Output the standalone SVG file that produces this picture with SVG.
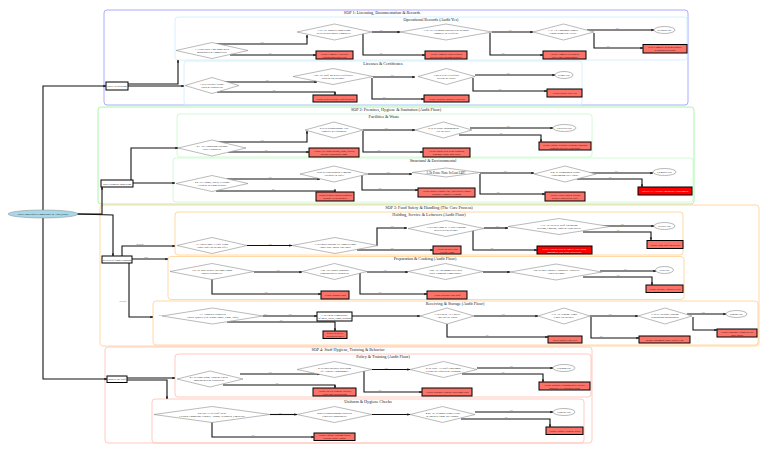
<svg xmlns="http://www.w3.org/2000/svg" width="768" height="453" viewBox="0 0 768 453">
<style>
text{font-family:"Liberation Serif","Times New Roman",serif;fill:#222;text-anchor:middle}
.c{fill:none;stroke-width:.9}
.b{stroke:#a0a0ff}.g{stroke:#a0f5a0}.o{stroke:#ffd49c}.p{stroke:#ffc4ba}
.ct{font-size:4.2px;fill:#222}
.d{fill:#fff;stroke:#8c8c8c;stroke-width:.6}
.e{fill:#fff;stroke:#888;stroke-width:.6}
.t{font-size:2.8px;fill:#222}
.r{fill:#fa7268;stroke:#000;stroke-width:1}
.rt{font-size:2.5px;fill:#300}
.x{fill:#f00;stroke:#000;stroke-width:1}
.xt{font-size:2.5px;fill:#fff}
.w{fill:#fff;stroke:#000;stroke-width:1}
.wt{font-size:2.7px;fill:#111}
.s{fill:#a6d8ea;stroke:#888;stroke-width:.5}
.l{font-size:2px;fill:#444}
#connectors path{fill:none;stroke:#111;stroke-width:1.1;marker-end:url(#a)}
</style>
<defs><marker id="a" markerUnits="userSpaceOnUse" markerWidth="3" markerHeight="3" refX="2.6" refY="1.2" orient="auto"><path d="M0 0L2.6 1.2L0 2.4z" fill="#111"/></marker></defs>

<g id="clusters">
<rect class="c b" x="104" y="10" width="584" height="95" rx="3"/>
<text class="ct" x="382" y="13.5">SOP 1: Licensing, Documentation &amp; Records</text>
<rect class="c" stroke="#d2eeff" x="175" y="17" width="512" height="43" rx="3"/>
<text class="ct" x="431" y="20.5">Operational Records (Audit Yes)</text>
<rect class="c" stroke="#d2eeff" x="184" y="61" width="398" height="44" rx="3"/>
<text class="ct" x="383" y="64.5">Licenses &amp; Certificates</text>

<rect class="c g" x="98" y="107" width="596" height="97" rx="3"/>
<text class="ct" x="396" y="111">SOP 2: Premises, Hygiene &amp; Sanitation (Audit Floor)</text>
<rect class="c" stroke="#cff7cf" x="177" y="114" width="415" height="43" rx="3"/>
<text class="ct" x="384" y="118">Facilities &amp; Waste</text>
<rect class="c" stroke="#cff7cf" x="173" y="158" width="520" height="44" rx="3"/>
<text class="ct" x="433" y="162">Structural &amp; Environmental</text>

<rect class="c o" x="100" y="205" width="659" height="141" rx="3"/>
<text class="ct" x="429" y="208.5">SOP 3: Food Safety &amp; Handling (The Core Process)</text>
<rect class="c o" x="175" y="212" width="508" height="43" rx="3"/>
<text class="ct" x="429" y="215.5">Holding, Service &amp; Leftovers (Audit Floor)</text>
<rect class="c o" x="168" y="256.500" width="516" height="43" rx="3"/>
<text class="ct" x="425" y="260">Preparation &amp; Cooking (Audit Floor)</text>
<rect class="c o" x="153" y="301" width="605" height="44" rx="3"/>
<text class="ct" x="455" y="304.500">Receiving &amp; Storage (Audit Floor)</text>

<rect class="c p" x="105" y="347" width="487" height="96" rx="3"/>
<text class="ct" x="348" y="350.500">SOP 4: Staff Hygiene, Training &amp; Behavior</text>
<rect class="c p" x="175" y="354" width="416" height="43" rx="3"/>
<text class="ct" x="383" y="358">Policy &amp; Training (Audit Floor)</text>
<rect class="c p" x="152" y="399" width="432" height="44" rx="3"/>
<text class="ct" x="368" y="402.500">Uniform &amp; Hygiene Checks</text>
</g>

<g id="connectors">
<path d="M43 210V86H106"/>
<path d="M43 218V379H107"/>
<path d="M77 214H102V187"/>
<path d="M77 214L113 215V256"/>
<path d="M128 84H178V60"/>
<path d="M128 86H184"/>
<path d="M216 44H307V35"/>
<path d="M230 55H316"/>
<path d="M372 32H400"/>
<path d="M363 33V55H425"/>
<path d="M492 32H533"/>
<path d="M490 33V55H543"/>
<path d="M587 30H654"/>
<path d="M594 33V48H643"/>
<path d="M222 82H317"/>
<path d="M217 92H335V95"/>
<path d="M373 77H415"/>
<path d="M372 78V99H424"/>
<path d="M475 75H555"/>
<path d="M473 78V91H547"/>

<path d="M131 180V148H178"/>
<path d="M133 183H175"/>
<path d="M217 142H307V131"/>
<path d="M228 152H309"/>
<path d="M363 130H415"/>
<path d="M363 131V152H423"/>
<path d="M470 128H553"/>
<path d="M459 135H541V142"/>
<path d="M227 179H320"/>
<path d="M216 191H335V192"/>
<path d="M368 174H412"/>
<path d="M362 175V190H418"/>
<path d="M480 173H534"/>
<path d="M480 174V194H545"/>
<path d="M587 173H653"/>
<path d="M577 179H642V187"/>

<path d="M122 256V246H175"/>
<path d="M132 259H168"/>
<path d="M129 263V317H153"/>
<path d="M247 245.500H292"/>
<path d="M377 246V228H407"/>
<path d="M357 250H433"/>
<path d="M484 228H508"/>
<path d="M473 230V250H537"/>
<path d="M600 226H654"/>
<path d="M583 232H651V240"/>
<path d="M254 272H302"/>
<path d="M212 279V294H321"/>
<path d="M367 272H408"/>
<path d="M360 273V294H427"/>
<path d="M483 272H510"/>
<path d="M600 271H656"/>
<path d="M583 277H652V285"/>
<path d="M263 316H317"/>
<path d="M227 322H335V331"/>
<path d="M352 316H420"/>
<path d="M474 316H538"/>
<path d="M447 324V337H548"/>
<path d="M590 316H638"/>
<path d="M591 317V338H639"/>
<path d="M687 314H726"/>
<path d="M693 317V330H717"/>

<path d="M127 378H175"/>
<path d="M127 380H167V399"/>
<path d="M240 374H320"/>
<path d="M223 385H335V388"/>
<path d="M372 369.500H410"/>
<path d="M364 370V392H422"/>
<path d="M477 368H553"/>
<path d="M462 374H543V382"/>
<path d="M270 414.500H297"/>
<path d="M212 422V437H314"/>
<path d="M372 414.500H410"/>
<path d="M475 412H553"/>
<path d="M461 419H550V427"/>
</g>

<g id="edge-labels">
<text class="l" x="140" y="245">Mention</text>
<text class="l" x="146" y="258">Prep</text>
<text class="l" x="123" y="302">Delivery</text>
<text class="l" x="262" y="43">Yes</text><text class="l" x="270" y="54">No</text>
<text class="l" x="381" y="31">Yes</text><text class="l" x="381" y="54">No</text>
<text class="l" x="510" y="31">Yes</text><text class="l" x="503" y="54">No</text>
<text class="l" x="617" y="29">Yes</text><text class="l" x="608" y="47">No</text>
<text class="l" x="267" y="81">Yes</text><text class="l" x="274" y="91">No</text>
<text class="l" x="392" y="76">Yes</text><text class="l" x="384" y="98">No</text>
<text class="l" x="508" y="74">Yes</text><text class="l" x="500" y="90">No</text>
<text class="l" x="262" y="141">Yes</text><text class="l" x="266" y="151">No</text>
<text class="l" x="386" y="129">Yes</text><text class="l" x="379" y="151">No</text>
<text class="l" x="508" y="127">Yes</text><text class="l" x="501" y="134">No</text>
<text class="l" x="270" y="178">Yes</text><text class="l" x="273" y="190">No</text>
<text class="l" x="388" y="173">Yes</text><text class="l" x="380" y="189">No</text>
<text class="l" x="505" y="172">Yes</text><text class="l" x="498" y="193">No</text>
<text class="l" x="616" y="172">Yes</text><text class="l" x="610" y="178">No</text>
<text class="l" x="270" y="245">Yes</text>
<text class="l" x="392" y="227">Yes</text><text class="l" x="392" y="249">No</text>
<text class="l" x="497" y="227">Yes</text><text class="l" x="492" y="249">No</text>
<text class="l" x="622" y="225">Yes</text><text class="l" x="618" y="231">No</text>
<text class="l" x="278" y="271">Yes</text><text class="l" x="266" y="293">No</text>
<text class="l" x="385" y="271">Yes</text><text class="l" x="380" y="293">No</text>
<text class="l" x="625" y="270">Yes</text><text class="l" x="618" y="276">No</text>
<text class="l" x="160" y="316">Yes</text><text class="l" x="265" y="315">Yes</text>
<text class="l" x="290" y="315">Yes</text><text class="l" x="281" y="321">No</text>
<text class="l" x="503" y="315">Yes</text><text class="l" x="487" y="336">No</text>
<text class="l" x="610" y="315">Yes</text><text class="l" x="601" y="337">No</text>
<text class="l" x="703" y="313">Yes</text>
<text class="l" x="270" y="373">Yes</text><text class="l" x="277" y="384">No</text>
<text class="l" x="386" y="369">Yes</text><text class="l" x="380" y="391">No</text>
<text class="l" x="511" y="367">Yes</text><text class="l" x="503" y="373">No</text>
<text class="l" x="280" y="414">Yes</text><text class="l" x="253" y="436">No</text>
<text class="l" x="511" y="411">Yes</text><text class="l" x="506" y="418">No</text>
</g>

<g id="start"><ellipse class="s" cx="43" cy="214" rx="35" ry="4"/><text class="wt" x="43" y="215">Daily Food Safety Compliance &amp; Audit (Start)</text></g>
<g id="box-sop1"><rect class="w" x="106" y="82" width="22" height="8"/><text class="wt" x="117" y="87">Daily Verification</text></g>
<g id="box-sop2"><rect class="w" x="101" y="180" width="32" height="7"/><text class="wt" x="117" y="184.500">Daily Premises Inspection</text></g>
<g id="box-sop3"><rect class="w" x="102" y="256" width="30" height="7"/><text class="wt" x="117" y="260.500">Review Of Food Handling</text></g>
<g id="box-sop4"><rect class="w" x="107" y="376" width="20" height="6.500"/><text class="wt" x="117" y="380">Inspect the Staff</text></g>

<g id="n11"><polygon class="d" points="176,50.500 212,42.500 248,50.500 212,58.500"/><text class="t" x="212" y="49.500">1.1 Has Daily Log Book Been</text><text class="t" x="212" y="52.500">Maintained &amp; Completed?</text></g>
<g id="n12"><polygon class="d" points="297,32 334.500,24 372,32 334.500,40"/><text class="t" x="334" y="31">1.1a Are Supplier Inspections</text><text class="t" x="334" y="34">Reviewed/Registry Complete?</text></g>
<g id="n13"><polygon class="d" points="400,32 446,24 492,32 446,40"/><text class="t" x="446" y="31">1.1b Are Cleaning Schedules &amp; Records</text><text class="t" x="446" y="34">Complete &amp; Verified?</text></g>
<g id="n14"><polygon class="d" points="533,32 563.500,24 594,32 563.500,40"/><text class="t" x="563" y="31">1.1c Are Logbooks Signed</text><text class="t" x="563" y="34">Countersigned &amp; Filed?</text></g>
<g id="ok1"><ellipse class="e" cx="664.500" cy="30" rx="10.500" ry="3.500"/><text class="t" x="664.500" y="31">Records OK</text></g>
<g id="r14b"><rect class="r" x="643" y="44.500" width="44" height="8.500"/><text class="rt" x="665" y="48">8.1b: Complete Records Register</text><text class="rt" x="665" y="51">&amp; Maintain Records</text></g>
<g id="r14"><rect class="r" x="543" y="51" width="43" height="8"/><text class="rt" x="564.500" y="54.500">Action: Complete Records &amp;</text><text class="rt" x="564.500" y="57.500">Have Logs Countersigned</text></g>
<g id="r12"><rect class="r" x="316" y="51" width="37" height="8"/><text class="rt" x="334.500" y="54.500">Action: Complete Log Sheet</text><text class="rt" x="334.500" y="57.500">Inform Supervisor Now</text></g>
<g id="r13"><rect class="r" x="425" y="51" width="42" height="8"/><text class="rt" x="446" y="54.500">Action: Complete Inspections &amp;</text><text class="rt" x="446" y="57.500">Prevent Non-Working Registers</text></g>

<g id="n21"><polygon class="d" points="185,85.500 212,77.500 239,85.500 212,93.500"/><text class="t" x="212" y="84.500">1.2 Is Health License</text><text class="t" x="212" y="87.500">Valid &amp; Displayed?</text></g>
<g id="n22"><polygon class="d" points="293,76.500 333,68.500 373,76.500 333,84.500"/><text class="t" x="333" y="75.500">1.2a Are Staff Medical Certificates</text><text class="t" x="333" y="78.500">Valid &amp; On Record?</text></g>
<g id="n23"><polygon class="d" points="418,76.500 446.500,68.500 475,76.500 446.500,84.500"/><text class="t" x="446.500" y="75.500">1.2b Is Pest Certificate</text><text class="t" x="446.500" y="78.500">Recent &amp; Valid?</text></g>
<g id="ok2"><ellipse class="e" cx="564" cy="75" rx="9" ry="3.500"/><text class="t" x="564" y="76">Permit OK</text></g>
<g id="r21"><rect class="r" x="547" y="89" width="35" height="8"/><text class="rt" x="564.500" y="94">Action: Renew Pest Cert</text></g>
<g id="r22"><rect class="r" x="313" y="95" width="44" height="7"/><text class="rt" x="335" y="99.500">Action: Renew/Replace Staff Medicals</text></g>
<g id="r23"><rect class="r" x="424" y="95" width="45" height="7"/><text class="rt" x="446.500" y="99.500">Action: Schedule Medical Check-up</text></g>

<g id="n31"><polygon class="d" points="178,148 212,140 246,148 212,156"/><text class="t" x="212" y="147">2.1 Are Handwash Stations</text><text class="t" x="212" y="150">Fully Equipped?</text></g>
<g id="n32"><polygon class="d" points="305,130 334,122 363,130 334,138"/><text class="t" x="334" y="129">2.1a Is Dishwashing Area</text><text class="t" x="334" y="132">Properly &amp; Equipped?</text></g>
<g id="n33"><polygon class="d" points="415,130 443.500,122 472,130 443.500,138"/><text class="t" x="443.500" y="129">2.1b Is Waste Management</text><text class="t" x="443.500" y="132">Up To SOP?</text></g>
<g id="ok3"><ellipse class="e" cx="564.500" cy="128" rx="11.500" ry="3.500"/><text class="t" x="564.500" y="129">Facilities OK</text></g>
<g id="r31"><rect class="r" x="309" y="148" width="50" height="9"/><text class="rt" x="334" y="152">Action: Fix Hand Stations, Soap, Dryers;</text><text class="rt" x="334" y="155">Replace Dishwasher Signs</text></g>
<g id="r32"><rect class="r" x="423" y="148" width="47" height="9"/><text class="rt" x="446.500" y="152">Action: Install Step Pedal Dustbins;</text><text class="rt" x="446.500" y="155">Segregate Waste Bins Daily</text></g>
<g id="r33"><rect class="r" x="539" y="142" width="52" height="8"/><text class="rt" x="565" y="145.500">Action: Enforce Kitchen Cleaning; Segregate</text><text class="rt" x="565" y="148.500">Hygienic Dry/Wet Food Waste</text></g>

<g id="n41"><polygon class="d" points="176,183.500 212,175.500 248,183.500 212,191.500"/><text class="t" x="212" y="182.500">2.2 Are Floors, Walls, Ceilings</text><text class="t" x="212" y="185.500">Clean &amp; In Good Repair?</text></g>
<g id="n42"><polygon class="d" points="300,174 334,166 368,174 334,182"/><text class="t" x="334" y="173">2.2a Is Ventilation &amp; Lighting</text><text class="t" x="334" y="176">Adequate &amp; Safe?</text></g>
<g id="n43"><polygon class="d" points="412,172.500 446,168 480,172.500 446,177"/><text class="t" x="446" y="173.500" style="font-size:3.2px">2.2b Pests: None In Last 24H?</text></g>
<g id="n44"><polygon class="d" points="534,174 565,166 596,174 565,182"/><text class="t" x="565" y="173">2.2c Is Plumbing &amp; Drain</text><text class="t" x="565" y="176">Functioning Free Flow?</text></g>
<g id="ok4"><ellipse class="e" cx="664.500" cy="172" rx="11.500" ry="3.500"/><text class="t" x="664.500" y="173">Premises OK</text></g>
<g id="x41"><rect class="x" x="638" y="187" width="54" height="8"/><text class="xt" x="665" y="192">CRITICAL: Activate Emergency Containment</text></g>
<g id="r41"><rect class="r" x="316" y="192" width="38" height="9"/><text class="rt" x="335" y="196">Action: Repair Cracked Surfaces;</text><text class="rt" x="335" y="199">Repaint Clean Surfaces</text></g>
<g id="r42"><rect class="r" x="418" y="188" width="57" height="9"/><text class="rt" x="446.500" y="192">Action: Install Exhaust Fan; Add/Correct Lights;</text><text class="rt" x="446.500" y="195">Schedule Chimney Cleaning</text></g>
<g id="r43"><rect class="r" x="545" y="192" width="40" height="9"/><text class="rt" x="565" y="196">Action: Clean Traps &amp; Drains;</text><text class="rt" x="565" y="199">Repair Leaks Before Shift</text></g>

<g id="n51"><polygon class="d" points="177,245.500 212,237.500 247,245.500 212,253.500"/><text class="t" x="212" y="244.500">3.1 Hold Food At Safe Temp</text><text class="t" x="212" y="247.500">Above 60°C or Below 5°C?</text></g>
<g id="n52"><polygon class="d" points="292,245.500 335,237.500 378,245.500 335,253.500"/><text class="t" x="335" y="244.500">3.1a Proper Storage Of Cooked Food</text><text class="t" x="335" y="247.500">Above 60C Inside Hot-Box?</text></g>
<g id="n53"><polygon class="d" points="408,228.500 446,220.500 484,228.500 446,236.500"/><text class="t" x="446" y="227.500">3.1b Cold Food Is At Safe Holding</text><text class="t" x="446" y="230.500">Received For Below?</text></g>
<g id="n54"><polygon class="d" points="508,226.500 559,218.500 610,226.500 559,234.500"/><text class="t" x="559" y="225.500">3.1c Are Service Staff Following</text><text class="t" x="559" y="228.500">Serving, Cooling, Thaw &amp; Dish Rules?</text></g>
<g id="ok5"><ellipse class="e" cx="664.500" cy="226" rx="10.500" ry="3.500"/><text class="t" x="664.500" y="227">Service OK</text></g>
<g id="r54"><rect class="r" x="647" y="240.500" width="36" height="8"/><text class="rt" x="665" y="245.500">Action: Train Staff On Service</text></g>
<g id="x53"><rect class="x" x="537" y="246" width="55" height="8"/><text class="xt" x="564.500" y="249.500">STOP: Discard Food &amp; Inspect Cold Chain;</text><text class="xt" x="564.500" y="252.500">Implement Now Cold Hold Policy</text></g>
<g id="r52"><rect class="r" x="433" y="246" width="28" height="8"/><text class="rt" x="447" y="249.500">Action: Reheat Food</text><text class="rt" x="447" y="252.500">To Safe Temp</text></g>

<g id="n61"><polygon class="d" points="170,271.500 212,263.500 254,271.500 212,279.500"/><text class="t" x="212" y="270.500">3.2 Are Raw/Ready-To-Cook Foods</text><text class="t" x="212" y="273.500">Stored Separately?</text></g>
<g id="n62"><polygon class="d" points="302,271.500 334.500,263.500 367,271.500 334.500,279.500"/><text class="t" x="334.500" y="270.500">3.2a Are Proper Standard</text><text class="t" x="334.500" y="273.500">Cooking Rules Followed?</text></g>
<g id="n63"><polygon class="d" points="408,271.500 445.500,263.500 483,271.500 445.500,279.500"/><text class="t" x="445.500" y="270.500">3.2b Are Thermometers Used</text><text class="t" x="445.500" y="273.500">Daily Cooking Temperature?</text></g>
<g id="n64"><polygon class="d" points="510,272 556,264 602,272 556,280"/><text class="t" x="556" y="271">3.2c Is Only Potable/Approved Additives</text><text class="t" x="556" y="274">Added in Food?</text></g>
<g id="ok6"><ellipse class="e" cx="664.500" cy="270" rx="9" ry="3.500"/><text class="t" x="664.500" y="271">Prep OK</text></g>
<g id="r64"><rect class="r" x="646" y="285" width="37" height="7.500"/><text class="rt" x="664.500" y="289.500">Action: Replace Additives Now</text></g>
<g id="r61"><rect class="r" x="321" y="291" width="28" height="8"/><text class="rt" x="335" y="295.500">Action: Separate Raw</text></g>
<g id="r62"><rect class="r" x="427" y="291" width="40" height="8"/><text class="rt" x="447" y="295.500">Action: Retrain Cook Staff</text></g>

<g id="n71"><polygon class="d" points="162,316 212.500,308 263,316 212.500,324"/><text class="t" x="212.500" y="315">3.3 Approved Suppliers</text><text class="t" x="212.500" y="318">Check Quality (e.g. Whole-Bone, Eggs, Tofu)</text></g>
<g id="w71"><rect class="w" x="317" y="312" width="35" height="9"/><text class="wt" x="334.500" y="316">3.3a Check Temperature</text><text class="wt" x="334.500" y="319">Of Meat, Dairy, Eggs, Seafood</text></g>
<g id="r71"><rect class="r" x="323" y="331" width="24" height="7.500"/><text class="rt" x="335" y="334">Reject Delivery;</text><text class="rt" x="335" y="337">Record On Sheet</text></g>
<g id="n72"><polygon class="d" points="420,316 447,308 474,316 447,324"/><text class="t" x="447" y="315">3.3b Check All Labels</text><text class="t" x="447" y="318">And Use-by Dates</text></g>
<g id="n73"><polygon class="d" points="538,316 564,308 590,316 564,324"/><text class="t" x="564" y="315">3.3c Are Storage Temp</text><text class="t" x="564" y="318">Chart Up-to-date?</text></g>
<g id="n74"><polygon class="d" points="638,316 665,308 692,316 665,324"/><text class="t" x="665" y="315">3.3d Is Adequate Storage</text><text class="t" x="665" y="318">Segregation Maintained?</text></g>
<g id="ok7"><ellipse class="e" cx="736.500" cy="314" rx="10.500" ry="3.500"/><text class="t" x="736.500" y="315">Storage OK</text></g>
<g id="r74"><rect class="r" x="717" y="329" width="40" height="8"/><text class="rt" x="737" y="332.500">Action: Segregate Fridges &amp; Dry</text><text class="rt" x="737" y="335.500">Store Racks</text></g>
<g id="r72"><rect class="r" x="548" y="336" width="34" height="7"/><text class="rt" x="565" y="340.500">Reject Stock; Log FIFO</text></g>
<g id="r73"><rect class="r" x="639" y="336" width="51" height="7"/><text class="rt" x="664.500" y="340.500">Repair Equipment; Move Stock; Log</text></g>

<g id="n81"><polygon class="d" points="177,379 210,371 243,379 210,387"/><text class="t" x="209" y="378">4.1 Is Hand Wash/ Hygiene Policy</text><text class="t" x="209" y="381">Implemented &amp; Displayed?</text></g>
<g id="n82"><polygon class="d" points="297,369.500 334.500,361.500 372,369.500 334.500,377.500"/><text class="t" x="334.500" y="368.500">4.1a Does Medical Screening</text><text class="t" x="334.500" y="371.500">Of Allocate Throughout?</text></g>
<g id="n83"><polygon class="d" points="410,369.500 443.500,361.500 477,369.500 443.500,377.500"/><text class="t" x="443.500" y="368.500">4.1b Have All Staff Undergone</text><text class="t" x="443.500" y="371.500">GOMP or Equivalent Training?</text></g>
<g id="ok8"><ellipse class="e" cx="564" cy="368" rx="11" ry="3.500"/><text class="t" x="564" y="369">Training OK</text></g>
<g id="r81"><rect class="r" x="313" y="388" width="43" height="8"/><text class="rt" x="334.500" y="391.500">Action: Put Up Hygiene Notices;</text><text class="rt" x="334.500" y="394.500">Train Staff In Reporting</text></g>
<g id="r82"><rect class="r" x="422" y="388" width="50" height="8"/><text class="rt" x="447" y="393">Action: Schedule Hygiene Screening/Tests</text></g>
<g id="r83"><rect class="r" x="539" y="382" width="51" height="8"/><text class="rt" x="564.500" y="385.500">Action: Schedule Training With FoSTaC;</text><text class="rt" x="564.500" y="388.500">Maintain All Training Records</text></g>

<g id="n91"><polygon class="d" points="154,414.500 212,406.500 270,414.500 212,422.500"/><text class="t" x="212" y="413.500">4.2 Do All Of Staff Wear</text><text class="t" x="212" y="416.500">Clean &amp; Compliant Clothes, Aprons, Headgear, Footwear?</text></g>
<g id="n92"><polygon class="d" points="297,414.500 334.500,406.500 372,414.500 334.500,422.500"/><text class="t" x="334.500" y="413.500">4.2a Is Handwashing Practiced</text><text class="t" x="334.500" y="416.500">Correctly Monitored?</text></g>
<g id="n93"><polygon class="d" points="410,414.500 442.500,406.500 475,414.500 442.500,422.500"/><text class="t" x="442.500" y="413.500">4.2b Are Personal Items Clean</text><text class="t" x="442.500" y="416.500">&amp; Isolated From The Hands?</text></g>
<g id="ok9"><ellipse class="e" cx="564" cy="412" rx="11" ry="3.500"/><text class="t" x="564" y="413">Hygiene OK</text></g>
<g id="r91"><rect class="r" x="314" y="433" width="41" height="7.500"/><text class="rt" x="334.500" y="436">Action: Enforce Uniform Policy;</text><text class="rt" x="334.500" y="439">Replace Worn Aprons</text></g>
<g id="r93"><rect class="r" x="546" y="427" width="37" height="7.500"/><text class="rt" x="564.500" y="431.500">Action: Enforce Hygiene Rules</text></g>
</svg>
